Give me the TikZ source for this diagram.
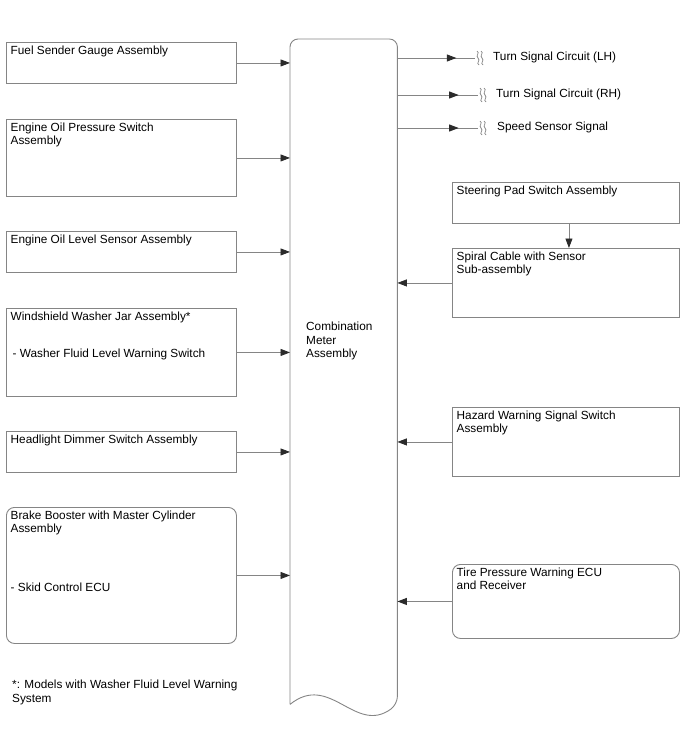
\documentclass[tikz,border=0pt]{standalone}
\usepackage{fontspec}
\setmainfont{Liberation Sans}
\usetikzlibrary{arrows.meta,decorations.markings}

\definecolor{linegray}{HTML}{858585}
\definecolor{tipgray}{HTML}{2B2B2B}

\begin{document}
\begin{tikzpicture}[x=1pt, y=-1pt, font=\fontsize{11.8}{13.5}\selectfont,
  box/.style={draw=linegray, line width=0.9pt, rectangle, anchor=north west, inner sep=0},
  lbox/.style={box, minimum width=230},
  rbox/.style={box, minimum width=227},
  txt/.style={anchor=north west, align=left, inner sep=0, xshift=4.5pt, yshift=-3.5pt},
  plaintxt/.style={anchor=north west, align=left, inner sep=0},
  sigtxt/.style={anchor=base west, inner sep=0},
  arr/.style={draw=linegray, line width=0.9pt, -{Triangle[length=9.5pt, width=7pt, color=tipgray]}},
  sig/.style={draw=linegray, line width=0.9pt, postaction={decorate},
    decoration={markings, mark=at position 0.76 with {\arrow{Triangle[length=9.5pt, width=7pt, color=tipgray]}}}},
  brk/.pic={
    \draw[linegray, line width=0.7pt] (-1,-7) .. controls (2.5,-5) and (-3,-2.5) .. (0,0) .. controls (3,2.5) and (-2.5,5) .. (1,7);
    \draw[linegray, line width=0.7pt] (3,-7) .. controls (6.5,-5) and (1,-2.5) .. (4,0) .. controls (7,2.5) and (1.5,5) .. (5,7);
  }]

\useasboundingbox (0,0) rectangle (688,755);

% Combination meter
\node[inner sep=0, minimum width=107, minimum height=665, anchor=north west] (cma) at (290,39) {};
\draw[linegray, line width=0.9pt] (cma.south west) [rounded corners=8pt] -- (cma.north west) -- (cma.north east) -- (cma.south east) [sharp corners]
  .. controls (355,735) and (330,672) .. (cma.south west);
\node[plaintxt] (cma-t) at (306,322) {Combination\\Meter\\Assembly};

% Inputs, left
\node[lbox, minimum height=41] (fuel) at (6,42) {};
\node[txt] (fuel-t) at (fuel.north west) {Fuel Sender Gauge Assembly};
\node[lbox, minimum height=77] (eop) at (6,119) {};
\node[txt] (eop-t) at (eop.north west) {Engine Oil Pressure Switch\\Assembly};
\node[lbox, minimum height=41] (eol) at (6,231) {};
\node[txt] (eol-t) at (eol.north west) {Engine Oil Level Sensor Assembly};
\node[lbox, minimum height=88] (wash) at (6,308) {};
\node[txt] (wash-t) at (wash.north west) {Windshield Washer Jar Assembly*\\[24pt]\hspace*{2pt}- Washer Fluid Level Warning Switch};
\node[lbox, minimum height=41] (dim) at (6,431) {};
\node[txt] (dim-t) at (dim.north west) {Headlight Dimmer Switch Assembly};
\node[lbox, minimum height=136, rounded corners=8pt] (brake) at (6,507) {};
\node[txt] (brake-t) at (brake.north west) {Brake Booster with Master Cylinder\\Assembly\\[45pt]- Skid Control ECU};

\foreach \n in {fuel,eop,eol,wash,dim,brake}
  \draw[arr] (\n.east) -- (\n.east -| cma.west);

% Inputs, right
\node[rbox, minimum height=41] (steer) at (452,182) {};
\node[txt] (steer-t) at (steer.north west) {Steering Pad Switch Assembly};
\node[rbox, minimum height=69] (spiral) at (452,248) {};
\node[txt] (spiral-t) at (spiral.north west) {Spiral Cable with Sensor\\Sub-assembly};
\node[rbox, minimum height=69] (hazard) at (452,407) {};
\node[txt] (hazard-t) at (hazard.north west) {Hazard Warning Signal Switch\\Assembly};
\node[rbox, minimum height=74, rounded corners=8pt] (tire) at (452,564) {};
\node[txt] (tire-t) at (tire.north west) {Tire Pressure Warning ECU\\and Receiver};

\draw[arr] ([xshift=3pt]steer.south) -- ([xshift=3pt]steer.south |- spiral.north);
\foreach \n in {spiral,hazard,tire}
  \draw[arr] (\n.west) -- (\n.west -| cma.east);

% Outputs
\coordinate (lh) at (475,58);
\coordinate (rh) at (478,95);
\coordinate (spd) at (478,128);
\node[sigtxt] (lh-t) at (493,60) {Turn Signal Circuit (LH)};
\node[sigtxt] (rh-t) at (496,97) {Turn Signal Circuit (RH)};
\node[sigtxt] (spd-t) at (497,130) {Speed Sensor Signal};
\foreach \s in {lh,rh,spd} {
  \draw[sig] (cma.east |- \s) -- (\s);
  \path (\s) ++(3,0) pic {brk};
}

% Note
\node[plaintxt] (note) at (12,680) {*: Models with Washer Fluid Level Warning\\System};

\end{tikzpicture}
\end{document}
